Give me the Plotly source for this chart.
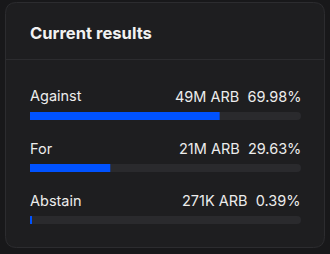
import plotly.graph_objects as go

categories = ["Against", "For", "Abstain"]
percents = [69.98, 29.63, 0.39]
amounts = ["49M ARB", "21M ARB", "271K ARB"]
pct_labels = ["69.98%", "29.63%", "0.39%"]
title_text = "Current results"

W, H = 330, 254
ML, MR, MT, MB = 30, 29, 38, 8
pw, ph = W - ML - MR, H - MT - MB

def px(x):
    return (x - ML) / pw

def py(y):
    return 1 - (y - MT) / ph

fig = go.Figure()
fig.add_trace(go.Bar(
    y=categories, x=[100] * len(categories), orientation="h",
    marker=dict(color="#2a2a2d", cornerradius=4, line=dict(width=0)),
    width=0.155, hoverinfo="skip", showlegend=False))
fig.add_trace(go.Bar(
    y=categories, x=percents, orientation="h",
    marker=dict(color="#0052ff", cornerradius=4, line=dict(width=0)),
    width=0.155, hoverinfo="skip", showlegend=False))

# card background
x0, x1, y0, y1, r = 5.5, 324.5, 2.5, 247.5, 11
path = (f"M {px(x0+r)},{py(y0)} L {px(x1-r)},{py(y0)} "
        f"Q {px(x1)},{py(y0)} {px(x1)},{py(y0+r)} L {px(x1)},{py(y1-r)} "
        f"Q {px(x1)},{py(y1)} {px(x1-r)},{py(y1)} L {px(x0+r)},{py(y1)} "
        f"Q {px(x0)},{py(y1)} {px(x0)},{py(y1-r)} L {px(x0)},{py(y0+r)} "
        f"Q {px(x0)},{py(y0)} {px(x0+r)},{py(y0)} Z")
shapes = [
    dict(type="path", xref="paper", yref="paper", path=path,
         fillcolor="#1e1e20", line=dict(color="#2c2c2f", width=1), layer="below"),
    dict(type="line", xref="paper", yref="paper", x0=px(x0), x1=px(x1),
         y0=py(59.5), y1=py(59.5), line=dict(color="#2c2c2f", width=1), layer="below"),
]

annotations = [dict(text=f"<b>{title_text}</b>", xref="paper", yref="paper",
                    x=0, y=py(33), xshift=-2, xanchor="left", yanchor="middle", showarrow=False,
                    font=dict(family="Inter", size=16.6, color="#f2f2f2"))]
for c, a, p in zip(categories, amounts, pct_labels):
    annotations.append(dict(text=c, xref="paper", yref="y", x=0, y=c, yshift=20, xshift=-2,
                            xanchor="left", yanchor="middle", showarrow=False,
                            font=dict(family="Inter", size=14.5, color="#ececec")))
    annotations.append(dict(text=f"{a}&nbsp;&nbsp;{p}", xref="paper", yref="y", x=1, y=c,
                            yshift=20, xshift=2, xanchor="right", yanchor="middle", showarrow=False,
                            font=dict(family="Inter", size=14.5, color="#ececec")))

fig.update_layout(
    width=W, height=H, margin=dict(l=ML, r=MR, t=MT, b=MB),
    paper_bgcolor="#18181a", plot_bgcolor="rgba(0,0,0,0)",
    barmode="overlay", shapes=shapes, annotations=annotations,
    xaxis=dict(range=[0, 100], visible=False, fixedrange=True),
    yaxis=dict(range=[2.5, -1.5], visible=False, fixedrange=True,
               categoryorder="array", categoryarray=categories),
)
fig.write_html("out.html", config={"displayModeBar": False})
